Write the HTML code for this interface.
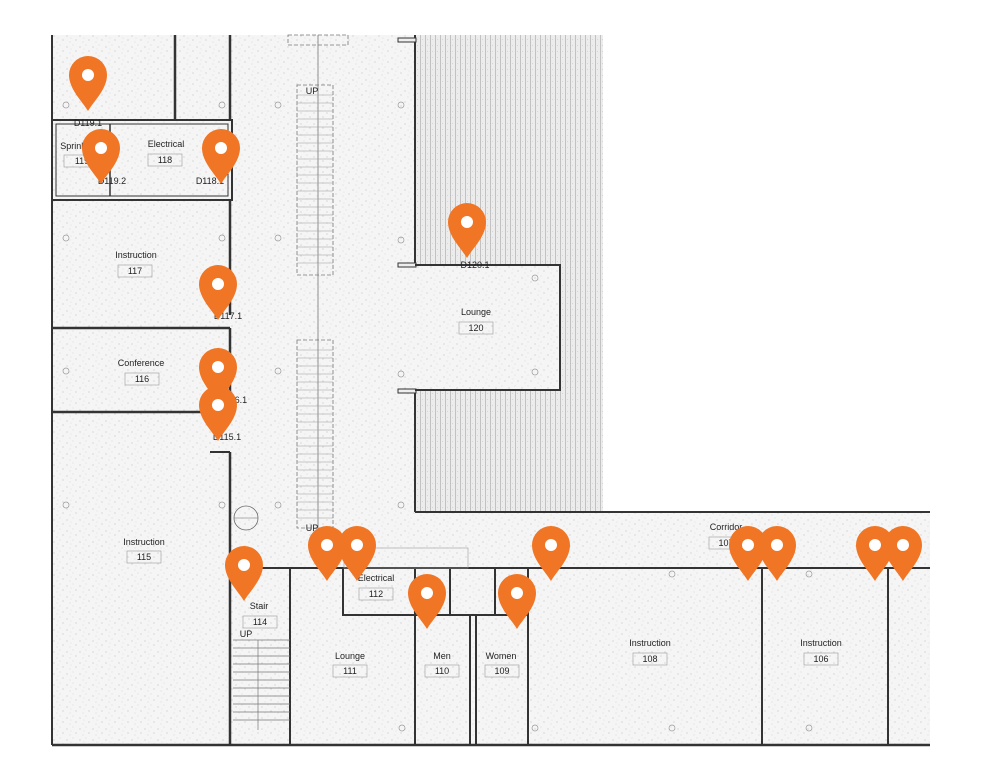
<!DOCTYPE html>
<html><head><meta charset="utf-8"><style>
html,body{margin:0;padding:0;background:#fff}
svg{display:block}
text{font-family:"Liberation Sans",sans-serif;font-size:9px;fill:#222}
</style></head><body>
<svg width="1000" height="779" viewBox="0 0 1000 779" xmlns="http://www.w3.org/2000/svg">
<defs>
<pattern id="hat" width="5" height="6" patternUnits="userSpaceOnUse">
<rect width="5" height="6" fill="#ececec"/>
<line x1="0.5" y1="0" x2="0.5" y2="6" stroke="#b8b8b8" stroke-width="0.8"/>
<line x1="2.5" y1="3" x2="2.5" y2="4" stroke="#c8c8c8" stroke-width="0.6"/>
</pattern>
<pattern id="spk" width="13" height="11" patternUnits="userSpaceOnUse">
<rect width="13" height="11" fill="#f5f5f5"/>
<circle cx="2" cy="3" r="0.5" fill="#aaa"/><circle cx="8" cy="1" r="0.4" fill="#bbb"/>
<circle cx="11" cy="7" r="0.5" fill="#aaa"/><circle cx="5" cy="9" r="0.4" fill="#bbb"/>
<circle cx="6" cy="5" r="0.3" fill="#999"/>
</pattern>
<path id="pin" d="M0,36 C-6,26 -19,14 -19,0 A19,19 0 1,1 19,0 C19,14 6,26 0,36 Z" fill="#F07524"/>
</defs>
<!-- floor background -->
<path d="M52,35 H603 V512 H930 V745 H52 Z" fill="url(#spk)"/>
<rect x="415" y="35" width="188" height="477" fill="url(#hat)"/>
<rect x="398" y="265" width="162" height="125" fill="url(#spk)"/>
<g fill="none" stroke="#333">
<!-- left wall -->
<line x1="52" y1="35" x2="52" y2="745" stroke-width="2"/>
<line x1="175" y1="35" x2="175" y2="120" stroke-width="2.5"/>
<line x1="230" y1="35" x2="230" y2="120" stroke-width="2.5"/>
<!-- 119/118 band -->
<rect x="52" y="120" width="180" height="80" stroke-width="2"/>
<rect x="56" y="124" width="172" height="72" stroke-width="1"/>
<line x1="110" y1="124" x2="110" y2="196" stroke-width="1.5"/>
<!-- west rooms -->
<line x1="230" y1="200" x2="230" y2="315" stroke-width="2.5"/>
<line x1="52" y1="328" x2="230" y2="328" stroke-width="2.5"/>
<line x1="230" y1="328" x2="230" y2="392" stroke-width="2.5"/>
<line x1="52" y1="412" x2="210" y2="412" stroke-width="2.5"/>
<line x1="210" y1="452" x2="230" y2="452" stroke-width="2"/>
<line x1="230" y1="452" x2="230" y2="745" stroke-width="2.5"/>
<!-- wall x=415 -->
<line x1="415" y1="35" x2="415" y2="265" stroke-width="2"/>
<line x1="415" y1="390" x2="415" y2="512" stroke-width="2"/>
<line x1="415" y1="512" x2="930" y2="512" stroke-width="2"/>
<rect x="398" y="38" width="18" height="4" fill="#eee" stroke-width="1"/>
<rect x="398" y="263" width="18" height="4" fill="#eee" stroke-width="1"/>
<rect x="398" y="389" width="18" height="4" fill="#eee" stroke-width="1"/>
<!-- lounge 120 -->
<path d="M415,265 H560 V390 H415" stroke-width="2"/>
<!-- stairs center -->
<g stroke="#777" stroke-width="0.8">
<line x1="318" y1="35" x2="318" y2="540"/>
<rect x="297" y="85" width="36" height="190" stroke-dasharray="4,2"/>
<rect x="297" y="340" width="36" height="188" stroke-dasharray="4,2"/>
<rect x="288" y="35" width="60" height="10" stroke-dasharray="4,2"/>
</g>
<g stroke="#999" stroke-width="0.6">
<path d="M297,95 H333 M297,103 H333 M297,111 H333 M297,119 H333 M297,127 H333 M297,135 H333 M297,143 H333 M297,151 H333 M297,159 H333 M297,167 H333 M297,175 H333 M297,183 H333 M297,191 H333 M297,199 H333 M297,207 H333 M297,215 H333 M297,223 H333 M297,231 H333 M297,239 H333 M297,247 H333 M297,255 H333 M297,263 H333"/>
<path d="M297,350 H333 M297,358 H333 M297,366 H333 M297,374 H333 M297,382 H333 M297,390 H333 M297,398 H333 M297,406 H333 M297,414 H333 M297,422 H333 M297,430 H333 M297,438 H333 M297,446 H333 M297,454 H333 M297,462 H333 M297,470 H333 M297,478 H333 M297,486 H333 M297,494 H333 M297,502 H333 M297,510 H333 M297,518 H333"/>
</g>
<circle cx="246" cy="518" r="12" stroke="#666" stroke-width="0.8"/>
<line x1="234" y1="518" x2="258" y2="518" stroke="#666" stroke-width="0.6"/>
<!-- south rooms -->
<line x1="230" y1="568" x2="930" y2="568" stroke-width="2"/>
<line x1="290" y1="568" x2="290" y2="745" stroke-width="2"/>
<rect x="343" y="568" width="72" height="47" stroke-width="2"/>
<rect x="450" y="568" width="45" height="47" stroke-width="2"/>
<line x1="415" y1="615" x2="528" y2="615" stroke-width="2"/>
<line x1="415" y1="615" x2="415" y2="745" stroke-width="2"/>
<line x1="470" y1="615" x2="470" y2="745" stroke-width="2"/>
<line x1="476" y1="615" x2="476" y2="745" stroke-width="2"/>
<line x1="528" y1="568" x2="528" y2="745" stroke-width="2"/>
<line x1="762" y1="568" x2="762" y2="745" stroke-width="2"/>
<line x1="888" y1="568" x2="888" y2="745" stroke-width="2"/>
<line x1="52" y1="745" x2="930" y2="745" stroke-width="2.5"/>
<rect x="344" y="548" width="124" height="20" stroke="#999" stroke-width="0.6"/>
<!-- stair 114 -->
<g stroke="#777" stroke-width="0.7">
<path d="M233,640 H290 M233,648 H290 M233,656 H290 M233,664 H290 M233,672 H290 M233,680 H290 M233,688 H290 M233,696 H290 M233,704 H290 M233,712 H290 M233,720 H290"/>
<line x1="258" y1="640" x2="258" y2="730"/>
</g>
</g>
<!-- columns -->
<g fill="none" stroke="#999" stroke-width="0.7">
<circle cx="66" cy="238" r="3"/><circle cx="222" cy="238" r="3"/><circle cx="278" cy="238" r="3"/>
<circle cx="66" cy="371" r="3"/><circle cx="278" cy="371" r="3"/>
<circle cx="66" cy="505" r="3"/><circle cx="222" cy="505" r="3"/><circle cx="278" cy="505" r="3"/>
<circle cx="401" cy="105" r="3"/><circle cx="401" cy="240" r="3"/><circle cx="401" cy="374" r="3"/><circle cx="401" cy="505" r="3"/>
<circle cx="535" cy="278" r="3"/><circle cx="535" cy="372" r="3"/>
<circle cx="222" cy="105" r="3"/><circle cx="278" cy="105" r="3"/><circle cx="66" cy="105" r="3"/>
<circle cx="402" cy="728" r="3"/><circle cx="535" cy="728" r="3"/><circle cx="672" cy="728" r="3"/><circle cx="809" cy="728" r="3"/>
<circle cx="672" cy="574" r="3"/><circle cx="809" cy="574" r="3"/>
</g>
<!-- labels -->
<g text-anchor="middle">
<text x="88" y="126">D119.1</text>
<text x="78" y="149">Sprinkler</text>
<rect x="64" y="155" width="36" height="12" fill="none" stroke="#999" stroke-width="0.6"/><text x="82" y="164">119</text>
<text x="166" y="147">Electrical</text>
<rect x="148" y="154" width="34" height="12" fill="none" stroke="#999" stroke-width="0.6"/><text x="165" y="163">118</text>
<text x="112" y="184">D119.2</text>
<text x="210" y="184">D118.1</text>
<text x="136" y="258">Instruction</text>
<rect x="118" y="265" width="34" height="12" fill="none" stroke="#999" stroke-width="0.6"/><text x="135" y="274">117</text>
<text x="228" y="319">D117.1</text>
<text x="141" y="366">Conference</text>
<rect x="125" y="373" width="34" height="12" fill="none" stroke="#999" stroke-width="0.6"/><text x="142" y="382">116</text>
<text x="233" y="403">D116.1</text>
<text x="227" y="440">D115.1</text>
<text x="144" y="545">Instruction</text>
<rect x="127" y="551" width="34" height="12" fill="none" stroke="#999" stroke-width="0.6"/><text x="144" y="560">115</text>
<text x="475" y="268">D120.1</text>
<text x="476" y="315">Lounge</text>
<rect x="459" y="322" width="34" height="12" fill="none" stroke="#999" stroke-width="0.6"/><text x="476" y="331">120</text>
<text x="259" y="609">Stair</text>
<rect x="243" y="616" width="34" height="12" fill="none" stroke="#999" stroke-width="0.6"/><text x="260" y="625">114</text>
<text x="246" y="637" font-size="7">UP</text>
<text x="312" y="531" font-size="7">UP</text>
<text x="312" y="94" font-size="7">UP</text>
<text x="376" y="581">Electrical</text>
<rect x="359" y="588" width="34" height="12" fill="none" stroke="#999" stroke-width="0.6"/><text x="376" y="597">112</text>
<text x="350" y="659">Lounge</text>
<rect x="333" y="665" width="34" height="12" fill="none" stroke="#999" stroke-width="0.6"/><text x="350" y="674">111</text>
<text x="442" y="659">Men</text>
<rect x="425" y="665" width="34" height="12" fill="none" stroke="#999" stroke-width="0.6"/><text x="442" y="674">110</text>
<text x="501" y="659">Women</text>
<rect x="485" y="665" width="34" height="12" fill="none" stroke="#999" stroke-width="0.6"/><text x="502" y="674">109</text>
<text x="726" y="530">Corridor</text>
<rect x="709" y="537" width="34" height="12" fill="none" stroke="#999" stroke-width="0.6"/><text x="726" y="546">107</text>
<text x="650" y="646">Instruction</text>
<rect x="633" y="653" width="34" height="12" fill="none" stroke="#999" stroke-width="0.6"/><text x="650" y="662">108</text>
<text x="821" y="646">Instruction</text>
<rect x="804" y="653" width="34" height="12" fill="none" stroke="#999" stroke-width="0.6"/><text x="821" y="662">106</text>
</g>
<!-- pins -->
<g>
<use href="#pin" x="88" y="75"/><use href="#pin" x="101" y="148"/><use href="#pin" x="221" y="148"/>
<use href="#pin" x="467" y="222"/><use href="#pin" x="218" y="284"/><use href="#pin" x="218" y="367"/>
<use href="#pin" x="218" y="405"/><use href="#pin" x="244" y="565"/><use href="#pin" x="327" y="545"/>
<use href="#pin" x="357" y="545"/><use href="#pin" x="427" y="593"/><use href="#pin" x="517" y="593"/>
<use href="#pin" x="551" y="545"/><use href="#pin" x="748" y="545"/><use href="#pin" x="777" y="545"/>
<use href="#pin" x="875" y="545"/><use href="#pin" x="903" y="545"/>
</g>
<g fill="#fff">
<circle cx="88" cy="75" r="6"/><circle cx="101" cy="148" r="6"/><circle cx="221" cy="148" r="6"/>
<circle cx="467" cy="222" r="6"/><circle cx="218" cy="284" r="6"/><circle cx="218" cy="367" r="6"/>
<circle cx="218" cy="405" r="6"/><circle cx="244" cy="565" r="6"/><circle cx="327" cy="545" r="6"/>
<circle cx="357" cy="545" r="6"/><circle cx="427" cy="593" r="6"/><circle cx="517" cy="593" r="6"/>
<circle cx="551" cy="545" r="6"/><circle cx="748" cy="545" r="6"/><circle cx="777" cy="545" r="6"/>
<circle cx="875" cy="545" r="6"/><circle cx="903" cy="545" r="6"/>
</g>
</svg>
</body></html>
